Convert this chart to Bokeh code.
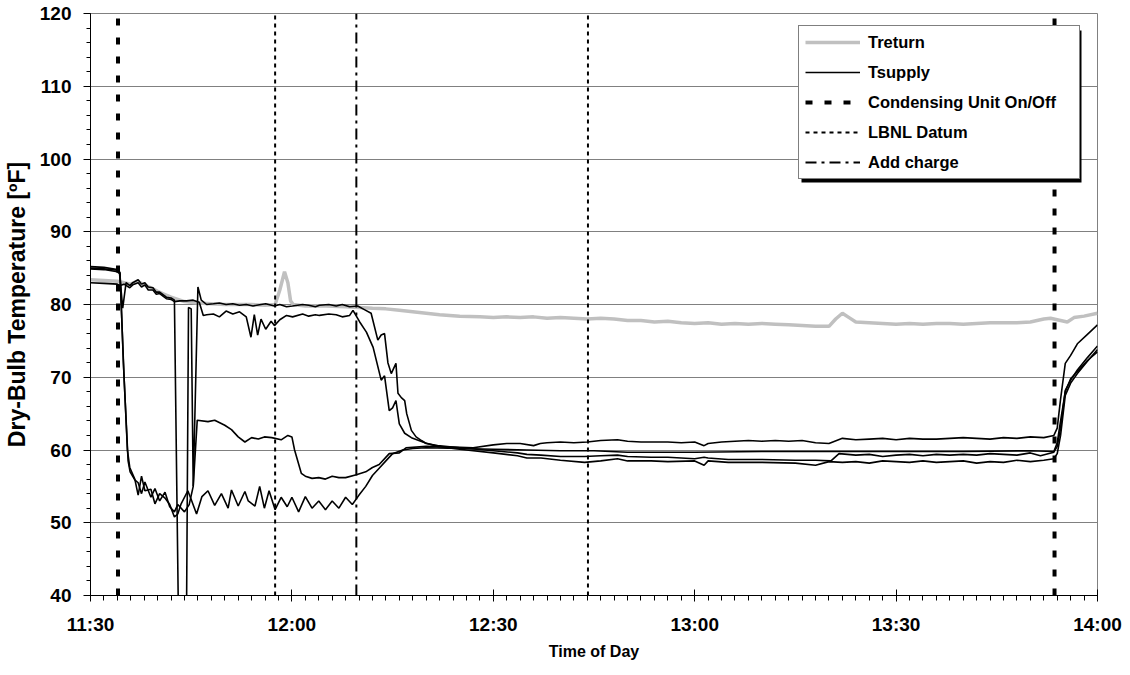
from bokeh.plotting import figure
from bokeh.models import Range1d, FixedTicker, Legend, LegendItem, BoxAnnotation
from bokeh.embed import file_html
from bokeh.resources import INLINE

# ---- data (time = minutes after 11:30, temperature in F) ----
tick_minutes = [0, 30, 60, 90, 120, 150]
tick_labels = ["11:30", "12:00", "12:30", "13:00", "13:30", "14:00"]
y_ticks = [40, 50, 60, 70, 80, 90, 100, 110, 120]

treturn = [(0, 83.4), (2, 83.3), (4, 83.2), (5, 83.0), (6, 82.8), (7, 83.2), (8, 82.7), (9, 82.3), (10, 81.8),
           (11, 81.4), (12, 81.0), (13, 80.7), (14, 80.4), (16, 80.2), (18, 80.1), (20, 80.0), (22, 80.0),
           (24, 80.0), (26, 79.9), (27.5, 80.0), (28.2, 82.0), (28.9, 84.5), (29.4, 83.0), (29.8, 80.5),
           (30.2, 80.0), (32, 79.8), (35, 79.8), (38, 79.7), (40, 79.6), (42, 79.5), (44, 79.4), (46, 79.2),
           (48, 79.0), (50, 78.8), (52, 78.6), (55, 78.4), (58, 78.3), (60, 78.2), (62, 78.3), (64, 78.2),
           (66, 78.3), (68, 78.1), (70, 78.2), (72, 78.1), (74, 78.0), (76, 78.1), (78, 78.0), (80, 77.8),
           (82, 77.8), (84, 77.6), (86, 77.7), (88, 77.5), (90, 77.4), (92, 77.5), (94, 77.3), (96, 77.4),
           (98, 77.3), (100, 77.4), (102, 77.3), (104, 77.2), (106, 77.1), (108, 77.0), (110, 77.0),
           (111, 78.0), (112, 78.8), (113, 78.2), (114, 77.6), (116, 77.5), (118, 77.4), (120, 77.3),
           (122, 77.4), (124, 77.3), (126, 77.4), (128, 77.4), (130, 77.3), (132, 77.4), (134, 77.5),
           (136, 77.5), (138, 77.5), (140, 77.6), (142, 78.0), (143, 78.1), (144, 77.9), (145.5, 77.6),
           (146.5, 78.2), (148, 78.4), (150, 78.8)]

supply_a = [(0, 85.2), (2, 85.1), (4, 84.8), (4.4, 84.4), (4.9, 72), (5.5, 60), (5.85, 57.6), (6.6, 56.0),
            (7.1, 53.8), (7.6, 56.4), (8.1, 54.4), (9.0, 54.6), (9.6, 52.6), (10.3, 54.0), (11.1, 53.4),
            (11.8, 52.5), (12.5, 50.8), (13.0, 51.2), (13.5, 52.6), (14.5, 54.4), (15.0, 53.2), (15.8, 51.2),
            (16.6, 53.6), (17.5, 54.4), (18.5, 52.4), (19.5, 54.0), (20.5, 52.0), (21.0, 54.5), (22.0, 52.3),
            (23.0, 54.3), (23.5, 53.0), (24.5, 52.3), (25.2, 55.0), (25.9, 52.0), (26.6, 54.4), (27.5, 51.8),
            (28.4, 53.5), (29.3, 52.2), (30.0, 53.5), (31.0, 51.5), (32.0, 53.6), (33.0, 52.0), (34.0, 53.0),
            (35.0, 51.8), (36.0, 53.0), (37.0, 52.0), (38.0, 53.5), (39.0, 52.5), (40.0, 53.8), (41.0, 55.0),
            (42.0, 56.5), (43.0, 57.5), (44.0, 58.5), (45.0, 59.5), (46.5, 60.0), (48.0, 60.2), (50, 60.3),
            (55, 60.2), (60, 60.1), (65, 60.0), (70, 59.9), (75, 59.9), (80, 59.7), (85, 59.7), (90, 59.7),
            (100, 59.8), (110, 59.8), (120, 59.8), (130, 59.8), (140, 59.9), (143.5, 59.8), (144.0, 61),
            (144.5, 64), (145.2, 68), (146, 69.8), (147, 70.8), (148.5, 72.3), (150, 73.5)]

supply_b = [(0, 84.9), (2, 84.8), (4, 84.5), (4.4, 84.2), (5.0, 70), (5.6, 58.5), (5.9, 57.0), (6.6, 55.9),
            (7.1, 55.5), (7.6, 54.0), (8.1, 55.6), (9.0, 53.5), (9.6, 54.7), (10.3, 53.0), (11.1, 54.2),
            (11.8, 52.2), (12.5, 51.5), (13.0, 52.5), (14.0, 51.5), (14.7, 52.5), (15.3, 55.0), (15.9, 64.1),
            (17.5, 63.9), (18.5, 64.1), (20, 63.4), (21, 62.8), (22, 61.8), (23, 61.1), (24, 61.7), (25, 61.5),
            (25.9, 61.8), (27, 61.7), (28.4, 61.4), (29.4, 62.0), (30.0, 61.8), (30.4, 60.0), (31.4, 56.8),
            (32, 56.4), (33, 56.1), (34, 56.2), (35, 56.0), (36, 56.4), (37, 56.2), (38, 56.2), (39.6, 56.6),
            (41, 57.0), (42, 57.6), (43, 58.0), (44.5, 59.5), (46, 59.6), (47, 60.3), (50, 60.5), (54, 60.4),
            (57, 60.3), (60, 60.7), (62, 60.9), (64, 60.9), (66, 60.6), (67, 60.9), (68, 61.0), (70, 61.1),
            (72, 61.0), (74, 61.1), (76, 61.3), (78.5, 61.4), (80, 61.2), (82, 61.1), (84, 61.1), (86, 61.1),
            (88, 61.0), (90, 61.1), (91.4, 60.6), (92, 60.9), (94, 61.1), (96, 61.2), (98, 61.3), (100, 61.2),
            (102, 61.3), (104, 61.2), (106, 61.3), (108, 61.0), (110, 60.9), (112, 61.6), (114, 61.4),
            (116, 61.5), (118, 61.6), (120, 61.4), (122, 61.6), (124, 61.5), (126, 61.5), (128, 61.6),
            (130, 61.7), (132, 61.6), (134, 61.5), (136, 61.7), (138, 61.6), (140, 61.8), (142, 61.7),
            (143.5, 62.0), (144.0, 63), (144.5, 67), (145.2, 71.9), (146, 73.0), (147, 74.6), (148.5, 75.9),
            (150, 77.2)]

supply_c = [(0, 85.0), (2, 84.9), (4, 84.7), (4.3, 84.5), (4.8, 79.5), (5.3, 83.0), (5.85, 82.6), (6.3, 83.0),
            (7.1, 83.4), (7.6, 82.8), (8.1, 83.0), (8.6, 82.4), (9.3, 82.3), (9.8, 81.7), (10.3, 81.7),
            (11.3, 81.0), (12.0, 80.9), (12.5, 80.6), (13.1, 37), (14.3, 37), (14.6, 79.6), (15.0, 79.4),
            (15.3, 55.0), (16.0, 82.4), (16.5, 80.6), (17.3, 80.0), (18.3, 80.1), (19.2, 80.2), (20.2, 80.0),
            (21.2, 80.1), (22.2, 79.9), (23.2, 80.0), (24.2, 79.8), (25.4, 80.0), (26.1, 80.1), (27.4, 79.8),
            (28.2, 80.0), (29.2, 79.7), (30.1, 79.8), (31.6, 80.0), (32.5, 79.9), (33.5, 79.7), (34.1, 79.9),
            (35.5, 80.0), (36.6, 79.8), (37.5, 80.0), (38.6, 79.7), (39.8, 79.8), (40.8, 79.3), (41.8, 78.8),
            (42.8, 75.1), (43.3, 75.8), (43.8, 76.0), (44.3, 72.0), (44.8, 70.5), (45.5, 71.9), (45.8, 67.8),
            (46.3, 67.2), (46.8, 66.8), (47.1, 65.0), (47.8, 62.7), (48.5, 61.8), (49.3, 61.3), (50, 60.9),
            (51.7, 60.6), (55, 60.3), (60, 59.9), (63.6, 59.6), (65, 59.4), (67.1, 59.3), (70, 59.1),
            (73.6, 59.1), (76, 59.2), (78.5, 59.3), (80, 59.1), (83.5, 59.0), (86, 59.0), (88, 58.9), (90, 58.8),
            (91.4, 59.0), (92, 58.9), (95, 58.7), (100, 58.7), (105, 58.6), (108, 58.6), (110.3, 58.5),
            (111.5, 59.5), (114, 59.3), (116, 59.4), (118, 59.1), (120, 59.3), (122, 59.4), (124, 59.2),
            (126, 59.4), (128, 59.3), (130, 59.4), (132, 59.3), (134, 59.5), (136, 59.4), (138, 59.3),
            (140, 59.6), (141.5, 59.2), (143.5, 59.7), (144.0, 60.5), (144.5, 63), (145.2, 68.2), (146, 69.6),
            (147, 71.0), (148.5, 72.7), (150, 74.3)]

supply_d = [(0, 83.0), (2, 82.9), (4, 82.8), (4.4, 82.6), (5.0, 82.8), (5.85, 82.3), (6.3, 82.7), (7.1, 83.0),
            (7.6, 82.4), (8.1, 82.7), (8.6, 82.0), (9.3, 82.0), (9.8, 81.4), (10.3, 81.5), (11.3, 80.8),
            (12.0, 80.7), (12.5, 80.4), (13.3, 80.5), (14.3, 80.5), (15.3, 80.6), (16.2, 80.3), (16.8, 78.5),
            (17.3, 78.6), (18.3, 78.7), (19.2, 78.3), (20.2, 79.1), (21.2, 78.7), (22.2, 79.0), (23.2, 78.3),
            (23.9, 75.5), (24.4, 78.6), (24.9, 75.8), (25.4, 78.0), (26.1, 76.6), (26.9, 77.7), (27.4, 77.1),
            (28.2, 77.9), (29.2, 78.5), (30.1, 78.3), (31.6, 78.7), (32.5, 78.4), (33.5, 78.6), (34.1, 78.5),
            (35.5, 78.7), (36.6, 78.6), (37.5, 78.3), (38.6, 78.5), (39.1, 79.2), (39.6, 78.4), (40.1, 77.6),
            (41.1, 76.2), (42.1, 74.1), (43.3, 69.6), (43.8, 70.2), (44.5, 65.4), (45.0, 65.8), (45.5, 66.8),
            (46.0, 63.6), (46.8, 62.3), (47.8, 61.7), (49.8, 61.0), (51.7, 60.5), (55, 60.1), (60, 59.6),
            (63.6, 59.2), (65, 58.9), (67.1, 58.9), (70, 58.6), (73.6, 58.3), (76, 58.5), (78.5, 58.8),
            (80, 58.5), (83.5, 58.5), (86, 58.4), (90, 58.5), (91.4, 57.9), (92, 58.5), (95, 58.3), (100, 58.3),
            (105, 58.2), (108, 57.9), (110, 58.4), (112, 58.3), (114, 58.4), (116, 58.2), (118, 58.5),
            (120, 58.4), (122, 58.3), (124, 58.5), (126, 58.3), (128, 58.4), (130, 58.5), (132, 58.2),
            (134, 58.4), (136, 58.3), (138, 58.6), (140, 58.4), (142, 58.6), (143.5, 58.8), (144.0, 59.5),
            (144.5, 62), (145.2, 67.5), (146, 69.2), (147, 70.5), (148.5, 72.2), (150, 73.8)]

condensing_times = [4.1, 143.6]
lbnl_times = [27.5, 74.1]
charge_times = [39.6]

X_MIN, X_MAX = 0, 150
Y_MIN, Y_MAX = 40, 120

FONT = "Liberation Sans"

# ---- figure ----
p = figure(width=1130, height=675, output_backend="svg", toolbar_location=None,
           x_range=Range1d(X_MIN, X_MAX), y_range=Range1d(Y_MIN, Y_MAX),
           min_border_left=89, min_border_right=33, min_border_top=13, min_border_bottom=80,
           background_fill_color="white", border_fill_color="white")
p.outline_line_color = "#808080"
p.outline_line_width = 1

p.xgrid.visible = False
p.ygrid.grid_line_color = "#808080"
p.ygrid.grid_line_width = 1

xt = FixedTicker(ticks=tick_minutes, minor_ticks=list(range(X_MIN, X_MAX + 1, 2)))
yt = FixedTicker(ticks=y_ticks, minor_ticks=list(range(Y_MIN, Y_MAX + 1, 2)))
p.xaxis.ticker = xt
p.yaxis.ticker = yt
p.ygrid.ticker = yt
p.xaxis.major_label_overrides = {m: l for m, l in zip(tick_minutes, tick_labels)}

for ax in (p.xaxis[0], p.yaxis[0]):
    ax.axis_line_color = "black"
    ax.axis_line_width = 1
    ax.major_tick_line_color = "black"
    ax.minor_tick_line_color = "black"
    ax.major_label_text_font = FONT
    ax.major_label_text_font_style = "bold"
    ax.major_label_text_font_size = "19px"
    ax.major_label_text_color = "black"
    ax.axis_label_text_font = FONT
    ax.axis_label_text_font_style = "bold"
    ax.axis_label_text_color = "black"

p.xaxis.major_tick_in = 6
p.xaxis.major_tick_out = 6
p.xaxis.minor_tick_in = 0
p.xaxis.minor_tick_out = 5
p.xaxis.major_label_standoff = 12
p.xaxis.axis_label = "Time of Day"
p.xaxis.axis_label_text_font_size = "16px"
p.xaxis.axis_label_standoff = 5

p.yaxis.major_tick_in = 0
p.yaxis.major_tick_out = 7
p.yaxis.minor_tick_in = 0
p.yaxis.minor_tick_out = 4
p.yaxis.major_label_standoff = 12
p.yaxis.axis_label = "Dry-Bulb Temperature [ºF]"
p.yaxis.axis_label_text_font_size = "23px"
p.yaxis.axis_label_standoff = 7


def xs(series):
    return [t for t, _ in series]


def ys(series):
    return [v for _, v in series]


r_ret = p.line(xs(treturn), ys(treturn), line_color="#c0c0c0", line_width=3.5)
r_sup = []
for s in (supply_a, supply_b, supply_c, supply_d):
    r_sup.append(p.line(xs(s), ys(s), line_color="black", line_width=1.6))

r_cond = p.segment(x0=condensing_times, y0=[Y_MIN] * len(condensing_times),
                   x1=condensing_times, y1=[Y_MAX] * len(condensing_times),
                   line_color="black", line_width=4, line_dash="7 12")
r_lbnl = p.segment(x0=lbnl_times, y0=[Y_MIN] * len(lbnl_times),
                   x1=lbnl_times, y1=[Y_MAX] * len(lbnl_times),
                   line_color="black", line_width=2, line_dash="4 4")
r_chg = p.segment(x0=charge_times, y0=[Y_MIN] * len(charge_times),
                  x1=charge_times, y1=[Y_MAX] * len(charge_times),
                  line_color="black", line_width=2, line_dash="11 5 3 5")

# ---- legend with drop shadow ----
FRAME_H = 582
PAD, GLYPH_W, STANDOFF, LABEL_W, ITEM_H, SPACING = 6, 55, 8, 205, 20, 10
n_items = 5
leg_w = 2 * PAD + GLYPH_W + STANDOFF + LABEL_W
leg_h = 2 * PAD + n_items * ITEM_H + (n_items - 1) * SPACING
leg_left = 708
leg_top = 14
leg_bottom = FRAME_H - leg_top - leg_h
SH = 3

shadow = BoxAnnotation(left=leg_left + SH, right=leg_left + leg_w + SH,
                       bottom=leg_bottom - SH, top=leg_bottom + leg_h - SH,
                       left_units="screen", right_units="screen",
                       bottom_units="screen", top_units="screen",
                       fill_color="black", fill_alpha=1.0, line_color=None)
p.add_layout(shadow)

legend = Legend(items=[
    LegendItem(label="Treturn", renderers=[r_ret]),
    LegendItem(label="Tsupply", renderers=[r_sup[0]]),
    LegendItem(label="Condensing Unit On/Off", renderers=[r_cond]),
    LegendItem(label="LBNL Datum", renderers=[r_lbnl]),
    LegendItem(label="Add charge", renderers=[r_chg]),
], location=(leg_left, leg_bottom))
legend.padding = PAD
legend.margin = 0
legend.glyph_width = GLYPH_W
legend.glyph_height = ITEM_H
legend.label_height = ITEM_H
legend.label_width = LABEL_W
legend.label_standoff = STANDOFF
legend.spacing = SPACING
legend.border_line_color = "black"
legend.border_line_width = 1
legend.background_fill_color = "white"
legend.background_fill_alpha = 1.0
legend.label_text_font = FONT
legend.label_text_font_style = "bold"
legend.label_text_font_size = "16.5px"
legend.label_text_color = "black"
p.add_layout(legend)

open("out.html", "w").write(file_html(p, INLINE))
